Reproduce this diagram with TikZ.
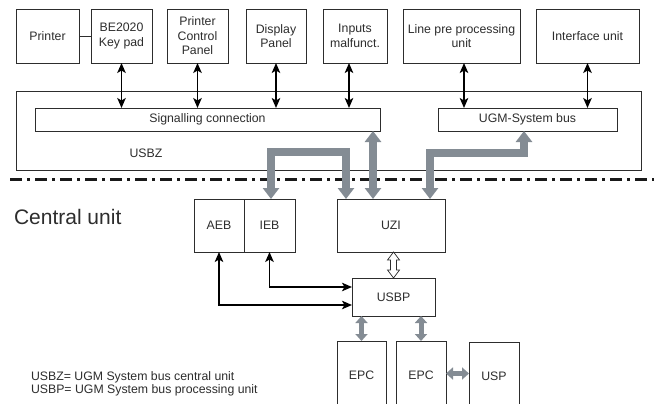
\documentclass[tikz,border=0pt]{standalone}
\usepackage{fontspec}
\setmainfont{Liberation Sans}
\usetikzlibrary{arrows.meta,calc}
\definecolor{busgrey}{RGB}{132,140,148}
\definecolor{inkgrey}{RGB}{45,45,45}
\begin{document}
\begin{tikzpicture}[x=1pt,y=-1pt,
  font=\fontsize{12.3}{14.5}\selectfont,
  box/.style={draw=inkgrey, line width=0.9pt, inner sep=0pt, outer sep=0pt,
    align=center, text=inkgrey},
  plain/.style={inner sep=0pt, outer sep=0pt, text=inkgrey},
  barrow/.style={draw=black, line width=1.5pt,
    {Stealth[length=10pt,width=8.5pt,inset=2.5pt]}-{Stealth[length=10pt,width=8.5pt,inset=2.5pt]}},
  gbus/.style={draw=busgrey, line width=8pt, line join=miter,
    {Triangle[length=11pt,width=16pt]}-{Triangle[length=11pt,width=16pt]}},
  gsmall/.style={draw=busgrey, line width=5pt,
    {Triangle[length=7pt,width=12pt]}-{Triangle[length=7pt,width=12pt]}},
  divider/.style={draw=black!90, line width=3pt,
    dash pattern=on 12pt off 5pt on 3pt off 5pt}]
\clip (0,0) rectangle (654,404);
\fill[white] (0,0) rectangle (654,404);

% peripheral units
\node[box, minimum width=63, minimum height=54] (printer) at (47.5,36) {Printer};
\node[box, minimum width=61, minimum height=54] (keypad) at (121.5,36) {BE2020\\Key pad};
\node[box, minimum width=61, minimum height=54] (pcp) at (197.5,36) {Printer\\Control\\Panel};
\node[box, minimum width=60, minimum height=54] (disp) at (276,36) {Display\\Panel};
\node[box, minimum width=64, minimum height=54] (inputs) at (355,36) {Inputs\\malfunct.};
\node[box, minimum width=117, minimum height=54] (lpp) at (461.5,36) {Line pre processing\\unit};
\node[box, minimum width=103, minimum height=54] (iface) at (587.5,36) {Interface unit};
\draw[draw=inkgrey, line width=0.9pt] (printer.east) -- (keypad.west);

% USBZ with its two buses
\node[box, minimum width=625, minimum height=79] (usbz) at (328.5,130.5) {};
\node[box, minimum width=345, minimum height=23] (sig) at (207.5,119.5) {Signalling connection};
\node[box, minimum width=179, minimum height=23] (ugm) at (527.5,119.5) {UGM-System bus};
\node[plain] (usbzlabel) at (146,153) {USBZ};

% peripheral links
\draw[barrow] (keypad.south) -- (keypad.south |- sig.north);
\draw[barrow] (pcp.south) -- (pcp.south |- sig.north);
\draw[barrow] (disp.south) -- (disp.south |- sig.north);
\coordinate (inlink) at ($(inputs.south)+(-6,0)$);
\draw[barrow] (inlink) -- (inlink |- sig.north);
\coordinate (lpplink) at ($(lpp.south)+(2.5,0)$);
\draw[barrow] (lpplink) -- (lpplink |- ugm.north);
\draw[barrow] (iface.south) -- (iface.south |- ugm.north);

% boundary of the central unit
\coordinate (divL) at (10,179);
\coordinate (divR) at (654,179);
\draw[divider] (divL) -- (divR);
\node[plain, anchor=west, font=\fontsize{21}{24}\selectfont] (central) at (14,217) {Central unit};

% central unit blocks
\node[box, minimum width=50, minimum height=53] (aeb) at (219,225.5) {AEB};
\node[box, minimum width=51, minimum height=53] (ieb) at (269.5,225.5) {IEB};
\node[box, minimum width=108, minimum height=53] (uzi) at (391,225.5) {UZI};
\node[box, minimum width=83, minimum height=38] (usbp) at (393.5,297) {USBP};
\node[box, minimum width=49, minimum height=69] (epca) at (361.5,375.5) {EPC};
\node[box, minimum width=50, minimum height=69] (epcb) at (421,375.5) {EPC};
\node[box, minimum width=50, minimum height=69] (usp) at (494,376.5) {USP};

% wide bus connections
\coordinate (ieblink) at ($(ieb.north)+(1.5,0)$);
\coordinate (uzia) at ($(uzi.north west)+(9,0)$);
\coordinate (uzib) at ($(uzi.north west)+(36,0)$);
\coordinate (uzic) at ($(uzi.north west)+(93,0)$);
\coordinate (ugmlink) at ($(ugm.south)+(-3.5,0)$);
\draw[gbus] (ieblink) -- (ieblink |- 0,152) -| (uzia);
\draw[gbus] (uzib) -- (uzib |- sig.south);
\draw[gbus] (ugmlink) -- (ugmlink |- 0,153) -| (uzic);

% UZI <-> USBP (open arrow)
\draw[fill=white, draw=inkgrey, line width=0.7pt, line join=miter]
  (usbp.north) -- ++(6,-8) -- ++(-3,0) -- ++(0,-10) -- ++(3,0) -- ++(-6,-8)
  -- ++(-6,8) -- ++(3,0) -- ++(0,10) -- ++(-3,0) -- cycle;

% AEB / IEB <-> USBP
\coordinate (usbpin1) at ($(usbp.north west)+(0,9)$);
\coordinate (usbpin2) at ($(usbp.south west)+(0,-11)$);
\draw[barrow] (ieb.south) |- (usbpin1);
\draw[barrow] (aeb.south) |- (usbpin2);

% processing level
\draw[gsmall] (epca.north) -- (epca.north |- usbp.south);
\draw[gsmall] (epcb.north) -- (epcb.north |- usbp.south);
\coordinate (epcbr) at ($(epcb.east)+(0,-2)$);
\draw[gsmall] (epcbr) -- (epcbr -| usp.west);

% abbreviations
\node[plain, anchor=base west] (leg1) at (31,380) {USBZ= UGM System bus central unit};
\node[plain, anchor=base west] (leg2) at (31,393) {USBP= UGM System bus processing unit};
\end{tikzpicture}
\end{document}
